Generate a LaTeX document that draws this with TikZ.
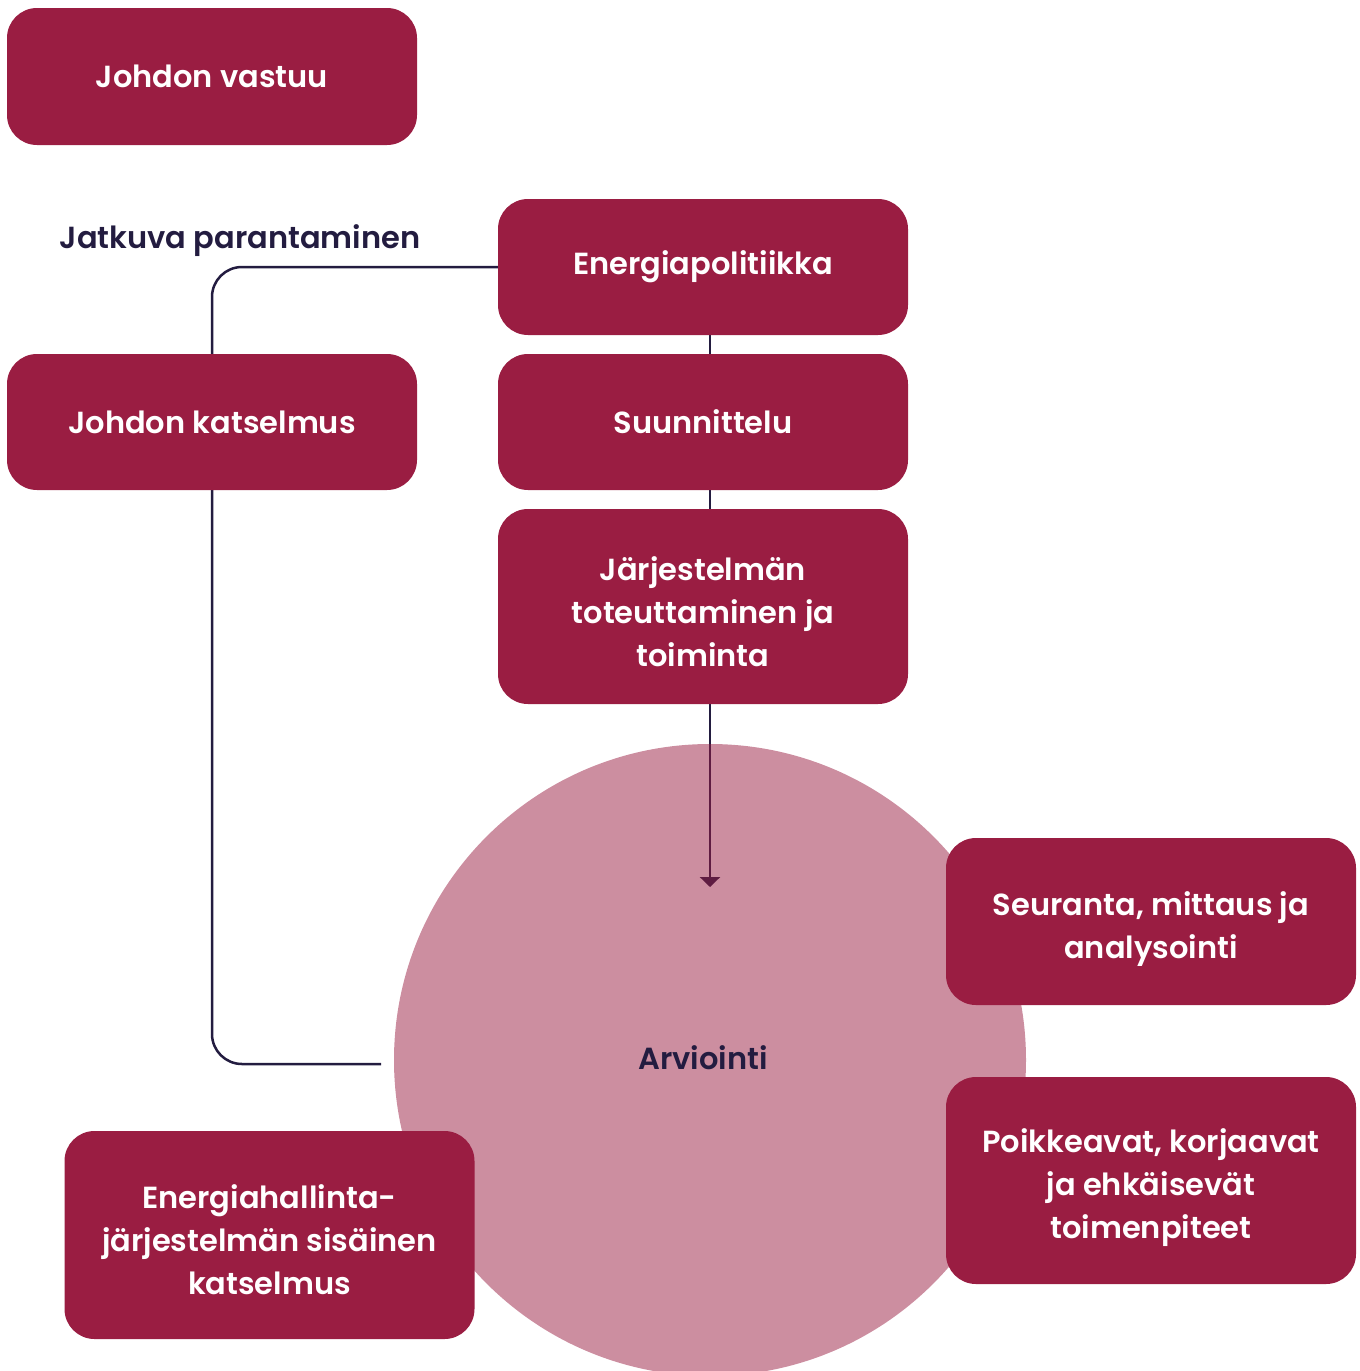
\documentclass[tikz,border=0pt]{standalone}
\usepackage{fontspec}
\setmainfont{Poppins SemiBold}
\usetikzlibrary{arrows.meta,backgrounds}

\definecolor{boxred}{HTML}{9A1D42}
\definecolor{navy}{HTML}{231C40}

\begin{document}
\begin{tikzpicture}[x=1pt,y=-1pt]
    \tikzstyle{box}=[rectangle,rounded corners=30pt,fill=boxred,text=white,
        minimum width=410pt,inner sep=0pt,align=center,
        font=\fontsize{30.5}{43}\selectfont]
    \tikzstyle{lnk}=[navy,line width=2.5pt]

    \useasboundingbox (0,0) rectangle (1360,1371);

    % boxes
    \node[box,minimum height=137pt] (jv) at (212,76.5) {Johdon vastuu};
    \node[box,minimum height=136pt] (ep) at (703,267) {Energiapolitiikka};
    \node[box,minimum height=136pt] (su) at (703,422) {Suunnittelu};
    \node[box,minimum height=195pt] (jt) at (703,606.5) {\rule{0pt}{34pt}Järjestelmän\\toteuttaminen ja\\toiminta};
    \node[box,minimum height=136pt] (jk) at (212,422) {Johdon katselmus};
    \node[box,minimum height=167pt] (sm) at (1151,921.5) {\rule{0pt}{38pt}Seuranta, mittaus ja\\analysointi};
    \node[box,minimum height=207pt] (pk) at (1151,1180.5) {\rule{0pt}{38pt}Poikkeavat, korjaavat\\ja ehkäisevät\\toimenpiteet};
    \node[box,minimum height=208pt] (eh) at (269.5,1235) {\rule{0pt}{34pt}Energiahallinta-\\järjestelmän sisäinen\\katselmus};

    \node[navy,font=\fontsize{30.5}{43}\selectfont] (jp) at (240,241) {Jatkuva parantaminen};
    \node[navy,font=\fontsize{30.5}{43}\selectfont] (arvt) at (703,1058) {Arviointi};

    \coordinate (ax) at (710,0);
    \coordinate (tip) at (710,887);
    \coordinate (lpend) at (381,1064);

    \begin{scope}[on background layer]
        \draw[lnk] (ep.south -| ax) -- (su.north -| ax);
        \draw[lnk] (su.south -| ax) -- (jt.north -| ax);
        \draw[lnk,-{Triangle[width=20pt,length=10pt]}] (jt.south -| ax) -- (tip);
        \draw[lnk,rounded corners=30pt] (ep.west) -| (jk.center) |- (lpend);

        \node[circle,minimum size=632pt,inner sep=0pt,fill=boxred,fill opacity=0.5] (arv) at (710,1060) {};
    \end{scope}
\end{tikzpicture}
\end{document}
